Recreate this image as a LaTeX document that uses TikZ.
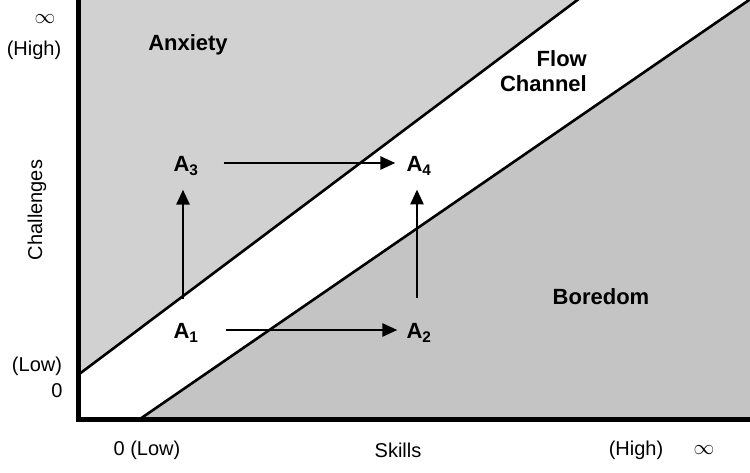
\documentclass[tikz,border=0pt]{standalone}
\usepackage{fontspec}
\setmainfont{Liberation Sans}
\usetikzlibrary{arrows.meta}
\begin{document}
\begin{tikzpicture}[x=1pt,y=-1pt,
  lbl/.style={inner sep=0pt,font=\fontsize{20}{22}\selectfont},
  inf/.style={inner sep=0pt,font=\fontsize{22}{24}\selectfont},
  big/.style={inner sep=0pt,font=\fontsize{22}{25}\selectfont\bfseries},
  pt/.style={inner sep=1pt,font=\fontsize{22}{24}\selectfont\bfseries},
  edge/.style={line width=2.6pt},
  axis/.style={line width=5pt},
  arr/.style={line width=2.8pt,-{Triangle[length=15pt,width=13pt]}},
  zoneA/.style={fill=black!18},
  zoneB/.style={fill=black!23}]
\useasboundingbox (0,0) rectangle (750,473);
\begin{scope}
\clip (0,0) rectangle (750,473);
% regions
\fill[zoneA] (78,0) -- (578,0) -- (78,375) -- cycle;
\fill[zoneB] (140,419) -- (750,-2) -- (750,419) -- cycle;
% channel edges
\coordinate (u1) at (78,375);
\coordinate (u2) at (580,-2);
\coordinate (l1) at (140,419);
\coordinate (l2) at (752,-2);
\draw[edge] (u1) -- (u2);
\draw[edge] (l1) -- (l2);
% axes
\coordinate (o) at (78,419);
\coordinate (ytop) at (78,-5);
\coordinate (xend) at (755,419);
\draw[axis] (ytop) -- (o) -- (xend);
\end{scope}
% axis labels
\node[inf] (inf1) at (45,19) {$\infty$};
\node[lbl] (high1) at (34,50) {(High)};
\node[lbl] (low1) at (37,366) {(Low)};
\node[lbl] (zero1) at (57,391) {0};
\node[lbl,rotate=90] (chal) at (37,210) {Challenges};
\node[lbl] (low2) at (147,450) {0 (Low)};
\node[lbl] (skills) at (398,450) {Skills};
\node[lbl] (high2) at (636,450) {(High)};
\node[inf] (inf2) at (704,450) {$\infty$};
% region labels
\node[big] (anx) at (188,45) {Anxiety};
\node[big] (bor) at (601,297) {Boredom};
\node[big,align=right,anchor=east] (flow) at (587,71) {Flow\\Channel};
% states
\node[pt] (A3) at (186,166) {A\textsubscript{3}};
\node[pt] (A4) at (419,166) {A\textsubscript{4}};
\node[pt] (A1) at (186,333) {A\textsubscript{1}};
\node[pt] (A2) at (419,333) {A\textsubscript{2}};
% transitions
\draw[arr] ([xshift=24pt,yshift=3pt]A3.east) -- ([xshift=-10pt,yshift=3pt]A4.west);
\draw[arr] ([xshift=26pt,yshift=3pt]A1.east) -- ([xshift=-8pt,yshift=3pt]A2.west);
\draw[arr] ([xshift=-3pt,yshift=24pt]A1.north) -- ([xshift=-3pt,yshift=-13pt]A3.south);
\draw[arr] ([xshift=-2pt,yshift=24pt]A2.north) -- ([xshift=-2pt,yshift=-13pt]A4.south);
\end{tikzpicture}
\end{document}
